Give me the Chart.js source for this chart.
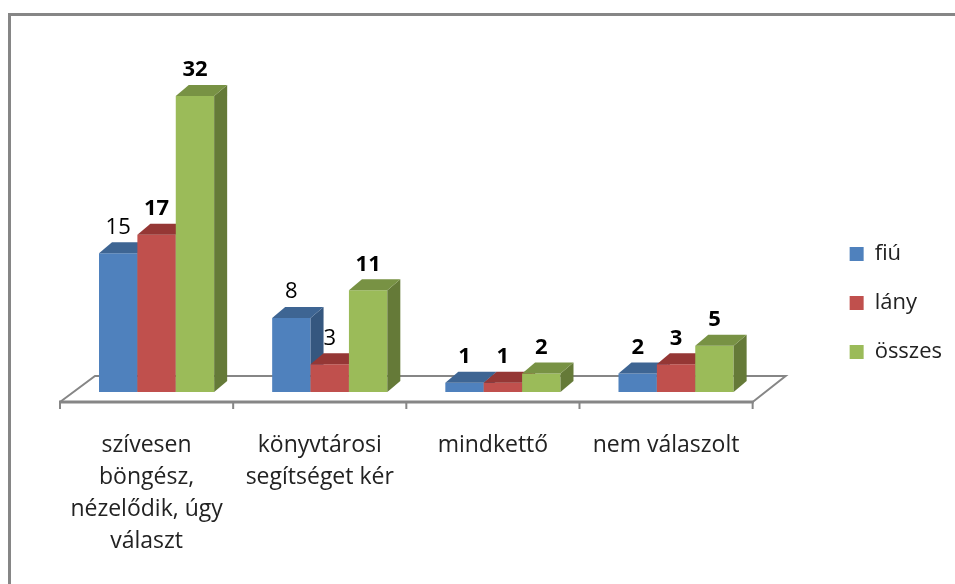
<!DOCTYPE html>
<html>
<head>
<meta charset="utf-8">
<style>
    html, body { margin: 0; padding: 0; background: #fff; overflow: hidden; }
    #frame { position: absolute; left: 8px; top: 13px; right: -5px; bottom: -5px; border: 3px solid #868686; }
    #chart { position: absolute; left: 0; top: 0; }
</style>
<script src="https://cdn.jsdelivr.net/npm/chart.js@4"></script>
</head>
<body>
<div id="frame"></div>
<canvas id="chart" width="955" height="584"></canvas>
<script>
const categories = [
    ['szívesen', 'böngész,', 'nézelődik, úgy', 'választ'],
    ['könyvtárosi', 'segítséget kér'],
    ['mindkettő'],
    ['nem válaszolt']
];
const fiu = [15, 8, 1, 2];
const lany = [17, 3, 1, 3];
const osszes = [32, 11, 2, 5];

const fontFamily = "'Open Sans', sans-serif";
const axisColor = '#868686';
// side and top faces for each series
const faces = [
    { side: '#35577f', top: '#3e6593' },
    { side: '#7d3331', top: '#953735' },
    { side: '#657a38', top: '#789244' }
];
// these value labels look lighter than the rest in the original
const plainLabels = ['0:0', '0:1', '1:1'];

const fillPoly = (ctx, color, pts) => {
    ctx.fillStyle = color;
    ctx.beginPath();
    pts.forEach((p, i) => i ? ctx.lineTo(p[0], p[1]) : ctx.moveTo(p[0], p[1]));
    ctx.closePath();
    ctx.fill();
};

const bar3d = {
    id: 'bar3d',
    // floor, tick marks and value labels go behind the bars
    beforeDatasetsDraw(chart) {
        const { ctx, chartArea: a, scales: { x } } = chart;
        ctx.save();
        ctx.strokeStyle = axisColor;
        ctx.lineWidth = 2;
        ctx.beginPath();
        ctx.moveTo(a.left - 10, a.bottom + 10);
        ctx.lineTo(a.left + 25, a.bottom - 16);
        ctx.lineTo(a.right + 23, a.bottom - 16);
        ctx.lineTo(a.right - 10, a.bottom + 10);
        ctx.stroke();
        ctx.lineWidth = 3;
        ctx.beginPath();
        ctx.moveTo(a.left - 11, a.bottom + 10);
        ctx.lineTo(a.right - 9, a.bottom + 10);
        ctx.stroke();
        ctx.lineWidth = 2;
        const step = (a.right - a.left) / categories.length;
        for (let i = 0; i <= categories.length; i++) {
            const tx = x.getPixelForTick(0) - step / 2 + step * i - 10;
            ctx.beginPath();
            ctx.moveTo(tx, a.bottom + 10);
            ctx.lineTo(tx, a.bottom + 17);
            ctx.stroke();
        }

        ctx.fillStyle = '#000';
        ctx.textAlign = 'center';
        ctx.textBaseline = 'middle';
        chart.data.datasets.forEach((ds, d) => {
            chart.getDatasetMeta(d).data.forEach((el, i) => {
                const weight = plainLabels.includes(d + ':' + i) ? 'normal' : 'bold';
                ctx.font = weight + ' 22px ' + fontFamily;
                ctx.fillText(ds.data[i], el.x, el.y - 26);
            });
        });
        ctx.restore();
    },
    // the library draws the last dataset first, but here each series has to
    // cover the side face of the one before it, so they are drawn left to right
    beforeDatasetDraw() {
        return false;
    },
    afterDatasetsDraw(chart) {
        const { ctx } = chart;
        const dx = 13, dy = 11;
        chart.data.datasets.forEach((ds, d) => {
            const f = faces[d];
            chart.getDatasetMeta(d).data.forEach(el => {
                const half = el.width / 2;
                const l = el.x - half, r = el.x + half;
                el.draw(ctx);
                fillPoly(ctx, f.side, [[r, el.y], [r + dx, el.y - dy], [r + dx, el.base - dy], [r, el.base]]);
                fillPoly(ctx, f.top, [[l, el.y], [l + dx, el.y - dy], [r + dx, el.y - dy], [r, el.y]]);
            });
        });
    }
};

const makeSet = (label, data, color) => ({
    label: label,
    data: data,
    backgroundColor: color,
    borderWidth: 0
});

new Chart(document.getElementById('chart'), {
    type: 'bar',
    data: {
        labels: categories,
        datasets: [
            makeSet('fiú', fiu, '#4f81bd'),
            makeSet('lány', lany, '#c0504d'),
            makeSet('összes', osszes, '#9bbb59')
        ]
    },
    options: {
        responsive: false,
        animation: false,
        layout: { padding: { left: 70, top: 22, right: 3, bottom: 0 } },
        datasets: { bar: { barPercentage: 1, categoryPercentage: 0.665 } },
        plugins: {
            tooltip: { enabled: false },
            legend: {
                position: 'right',
                labels: {
                    boxWidth: 14,
                    boxHeight: 14,
                    padding: 27,
                    color: '#222',
                    font: { family: fontFamily, size: 22 }
                }
            }
        },
        scales: {
            x: {
                grid: { display: false },
                border: { display: false },
                ticks: {
                    maxRotation: 0,
                    autoSkip: false,
                    labelOffset: -10,
                    padding: 29,
                    color: '#222',
                    font: { family: fontFamily, size: 23, lineHeight: 32 / 23 }
                },
                afterFit(scale) { scale.height = 192; }
            },
            y: {
                display: false,
                min: 0,
                max: 40
            },
            legendGap: {
                position: 'right',
                grid: { display: false },
                border: { display: false },
                ticks: { display: false },
                afterFit(scale) { scale.width = 60; }
            }
        }
    },
    plugins: [bar3d]
});
</script>
</body>
</html>
